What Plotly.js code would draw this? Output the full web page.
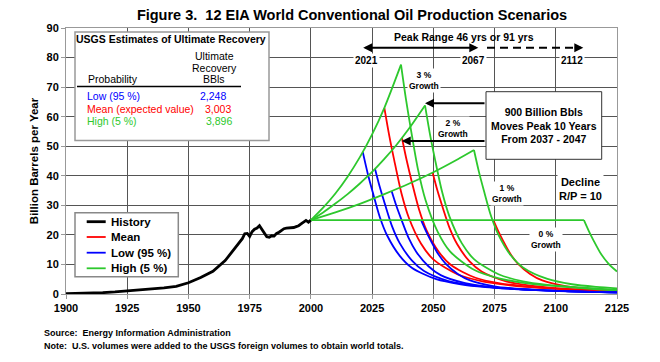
<!DOCTYPE html>
<html><head><meta charset="utf-8">
<script src="https://cdn.plot.ly/plotly-3.0.1.min.js"></script>
<style>html,body{margin:0;padding:0;background:#fff}#chart{width:660px;height:362px}</style>
</head><body><div id="chart"></div>
<script>
// ---- History ----
const histYears = [1900,1905,1910,1915,1920,1925,1930,1935,1940,1945,1950,1955,1960,1965,1970,1972,1973,1974,1975,1976,1977,1978,1979,1980,1981,1982,1983,1984,1985,1986,1987,1988,1989,1990,1991,1992,1993,1994,1995,1996,1997,1998,1999,2000];
const histVals  = [0.15,0.22,0.33,0.45,0.7,1.0,1.4,1.6,2.1,2.6,3.8,5.6,7.7,11.3,16.6,18.7,20.4,20.5,19.5,21.1,21.9,22.3,23.1,21.9,20.5,19.4,19.2,19.7,19.6,20.5,20.9,21.6,22.1,22.3,22.3,22.4,22.5,22.8,23.1,23.7,24.4,24.9,24.3,25.0];

// ---- Growth paths (shared by the three URR cases, visible as green) ----
const grow3Years = [2000,2005,2010,2015,2020,2025,2030,2036.8];
const grow3Vals  = [25,29.2,34.0,39.7,46.3,54.0,63.0,77.6];
const grow2Years = [2000,2005,2010,2015,2020,2025,2030,2035,2040,2046.6];
const grow2Vals  = [25,27.6,30.6,33.8,37.4,41.3,45.7,50.5,55.9,63.8];
const grow1Years = [2000,2010,2020,2030,2040,2050,2060,2066.6];
const grow1Vals  = [25,27.6,30.5,33.8,37.3,41.2,45.6,48.7];
const grow0Years = [2000,2111.5];
const grow0Vals  = [25,25];

// ---- Low (95 %) declines ----
const low3Years = [2021.2,2023.2,2025.2,2028.2,2031.2,2036.2,2041.2,2051.2,2061.2,2071.2,2081.2,2101.2,2121.2,2125];
const low3Vals  = [48.0,40.8,34.6,25.9,19.7,13.0,8.9,5.0,3.3,2.35,1.8,1.0,0.58,0.5];
const low2Years = [2026.2,2028.2,2030.2,2033.2,2036.2,2041.2,2046.2,2056.2,2066.2,2076.2,2086.2,2106.2,2125];
const low2Vals  = [42.3,36.0,30.5,22.8,17.3,11.4,7.8,4.4,2.9,2.1,1.6,0.89,0.53];
const low1Years = [2033,2035,2037,2040,2043,2048,2053,2063,2073,2083,2093,2113,2125];
const low1Vals  = [34.8,29.6,25.1,18.8,14.3,9.4,6.4,3.65,2.4,1.7,1.3,0.73,0.52];
const low0Years = [2045,2047,2049,2052,2055,2060,2065,2075,2085,2095,2105,2125];
const low0Vals  = [25,21.3,18.0,13.5,10.3,6.8,4.6,2.6,1.7,1.2,0.93,0.53];

// ---- Mean declines ----
const mean3Years = [2030,2032,2034,2037,2040,2045,2050,2060,2070,2080,2090,2110,2125];
const mean3Vals  = [63.0,53.6,45.4,34.0,25.8,17.0,11.7,6.6,4.3,3.1,2.3,1.3,0.88];
const mean2Years = [2037.2,2039.2,2041.2,2044.2,2047.2,2052.2,2057.2,2067.2,2077.2,2087.2,2097.2,2117.2,2125];
const mean2Vals  = [52.8,44.9,38.0,28.5,21.6,14.3,9.8,5.5,3.6,2.6,1.95,1.1,0.9];
const mean1Years = [2049.7,2051.7,2053.7,2056.7,2059.7,2064.7,2069.7,2079.7,2089.7,2099.7,2109.7,2125];
const mean1Vals  = [41.1,34.9,29.6,22.2,16.9,11.1,7.6,4.3,2.8,2.0,1.5,0.99];
const mean0Years = [2074.5,2076.5,2078.5,2081.5,2084.5,2089.5,2094.5,2104.5,2114.5,2125];
const mean0Vals  = [25,21.3,18.0,13.5,10.3,6.8,4.6,2.6,1.7,1.2];

// ---- High (5 %) declines ----
const high3Years = [2036.8,2038.8,2040.8,2043.8,2046.8,2051.8,2056.8,2066.8,2076.8,2086.8,2096.8,2116.8,2125];
const high3Vals  = [77.6,66.0,55.9,41.9,31.8,21.0,14.4,8.1,5.3,3.8,2.9,1.6,1.3];
const high2Years = [2046.6,2048.6,2050.6,2053.6,2056.6,2061.6,2066.6,2076.6,2086.6,2096.6,2106.6,2125];
const high2Vals  = [63.8,54.2,45.9,34.5,26.2,17.2,11.8,6.7,4.3,3.1,2.4,1.4];
const high1Years = [2066.6,2068.6,2070.6,2073.6,2076.6,2081.6,2086.6,2096.6,2106.6,2116.6,2125];
const high1Vals  = [48.7,41.4,35.1,26.3,20.0,13.1,9.0,5.1,3.3,2.4,1.9];
const high0Years = [2111.5,2113.5,2115.5,2118.5,2121.5,2125];
const high0Vals  = [25,21.3,18.0,13.5,10.3,7.6];

// ---- Table / legend text ----
const tableLabels = ['Low (95 %)','Mean (expected value)','High (5 %)'];
const tableValues = ['2,248','3,003','3,896'];
const legendNames = ['History','Mean','Low (95 %)','High (5 %)'];

const FONT = 'Liberation Sans, Arial, sans-serif';
const RED = '#FF0000', BLUE = '#0000FF', GREEN = '#2DC82D';

function joinSegs(segs){
  const x=[], y=[];
  segs.forEach((s,i)=>{ if(i){x.push(null);y.push(null);} x.push(...s[0]); y.push(...s[1]); });
  return {x,y};
}
const meanD = joinSegs([[mean0Years,mean0Vals],[mean1Years,mean1Vals],[mean2Years,mean2Vals],[mean3Years,mean3Vals]]);
const lowD  = joinSegs([[low0Years,low0Vals],[low1Years,low1Vals],[low2Years,low2Vals],[low3Years,low3Vals]]);
const highD = joinSegs([[grow0Years,grow0Vals],[grow1Years,grow1Vals],[grow2Years,grow2Vals],[grow3Years,grow3Vals],
                        [high0Years,high0Vals],[high1Years,high1Vals],[high2Years,high2Vals],[high3Years,high3Vals]]);

const lw = 1.8;
const colors = ['#000',RED,BLUE,GREEN];
const widths = [2.8,lw,lw,lw];
const traces = [
  {x:histYears,y:histVals,name:legendNames[0],mode:'lines',line:{color:colors[0],width:widths[0]}},
  {x:meanD.x,y:meanD.y,name:legendNames[1],mode:'lines',connectgaps:false,line:{color:RED,width:lw,shape:'spline',smoothing:0.8}},
  {x:lowD.x,y:lowD.y,name:legendNames[2],mode:'lines',connectgaps:false,line:{color:BLUE,width:lw,shape:'spline',smoothing:0.8}},
  {x:highD.x,y:highD.y,name:legendNames[3],mode:'lines',connectgaps:false,line:{color:GREEN,width:lw,shape:'spline',smoothing:0.8}}
];

// pixel -> paper helpers (plot area 66..617 x 28..294)
const L=66,T=28,W=551,H=266;
const PX = px => (px-L)/W;
const PY = py => (T+H-py)/H;

function txt(text, px, py, size, opts){
  return Object.assign({xref:'paper',yref:'paper',x:PX(px),y:PY(py),text:text,showarrow:false,
    xanchor:'center',yanchor:'middle',font:{family:FONT,size:size,color:'#000',weight:'bold'}}, opts||{});
}
const ann = [];
// table
ann.push(txt('USGS Estimates of Ultimate Recovery',170.5,39,10.5));
ann.push(txt('Ultimate',214,56,10.5,{font:{family:FONT,size:10.5,color:'#000'}}));
ann.push(txt('Recovery',214,67.7,10.5,{font:{family:FONT,size:10.5,color:'#000'}}));
ann.push(txt('BBls',214,79,10.5,{font:{family:FONT,size:10.5,color:'#000'}}));
ann.push(txt('Probability',86,79,10.5,{xanchor:'left',font:{family:FONT,size:10.5,color:'#000'}}));
const rowY=[96,108.5,121], rowC=[BLUE,RED,GREEN], valX=[198,203,204];
tableLabels.forEach((t,i)=>{
  ann.push(txt(t,85,rowY[i],10.5,{xanchor:'left',font:{family:FONT,size:10.5,color:rowC[i]}}));
  ann.push(txt(tableValues[i],valX[i],rowY[i],10.5,{xanchor:'left',font:{family:FONT,size:10.5,color:rowC[i]}}));
});
// legend text
const legY=[221.7,237,252.7,268.3];
legendNames.forEach((n,i)=>ann.push(txt(n,108.5,legY[i],11.5,{xanchor:'left'})));
// peak range
ann.push(txt('Peak Range 46 yrs or 91 yrs',464,36.7,10.5));
ann.push({xref:'paper',yref:'paper',x:PX(478.3),y:PY(47.7),ax:-116.6,ay:0,text:'',showarrow:true,
  arrowhead:2,startarrowhead:2,arrowside:'end+start',arrowwidth:2,arrowsize:0.9,startarrowsize:0.9,arrowcolor:'#000'});
ann.push({xref:'paper',yref:'paper',x:PX(583.3),y:PY(47.7),ax:-10,ay:0,text:'',showarrow:true,
  arrowhead:2,arrowwidth:2,arrowsize:0.9,arrowcolor:'#000'});
ann.push(txt('2021',366.5,60,10,{bgcolor:'#fff'}));
ann.push(txt('2067',473,60,10,{bgcolor:'#fff'}));
ann.push(txt('2112',571.7,60,10,{bgcolor:'#fff'}));
// growth labels
ann.push(txt('3 %<br>Growth',424,80.5,8.5,{bgcolor:'#fff'}));
ann.push(txt('2 %<br>Growth',452.7,128,8.5,{bgcolor:'#fff'}));
ann.push(txt('1 %<br>Growth',506.7,193,8.5,{bgcolor:'#fff'}));
ann.push(txt('0 %<br>Growth',546,239.5,8.5,{bgcolor:'#fff'}));
ann.push(txt('Decline<br>R/P = 10',580,189,11,{bgcolor:'#fff'}));
// 900 box
ann.push(txt('900 Billion Bbls<br>Moves Peak 10 Years<br>From 2037 - 2047',543.8,125.5,10.5));
ann.push({xref:'paper',yref:'paper',x:PX(425),y:PY(103.3),ax:61,ay:0,text:'',showarrow:true,
  arrowhead:2,arrowwidth:2,arrowsize:0.9,arrowcolor:'#000'});
ann.push({xref:'paper',yref:'paper',x:PX(401.7),y:PY(141),ax:84.3,ay:0,text:'',showarrow:true,
  arrowhead:2,arrowwidth:2,arrowsize:0.9,arrowcolor:'#000'});
// footnotes
ann.push(txt('Source:\u00a0 Energy Information Administration',42,333,9,{xanchor:'left'}));
ann.push(txt('Note:\u00a0 U.S. volumes were added to the USGS foreign volumes to obtain world totals.',42,346,9,{xanchor:'left'}));

const shapes = [
  {type:'rect',xref:'paper',yref:'paper',x0:PX(75),x1:PX(269),y0:PY(140.5),y1:PY(32),line:{color:'#999',width:1.5},fillcolor:'#fff',layer:'above'},
  {type:'line',xref:'paper',yref:'paper',x0:PX(77),x1:PX(241),y0:PY(86.5),y1:PY(86.5),line:{color:'#000',width:1.5}},
  {type:'rect',xref:'paper',yref:'paper',x0:PX(486),x1:PX(601.7),y0:PY(159.3),y1:PY(91.7),line:{color:'#333',width:1},fillcolor:'#fff',layer:'above'},
  {type:'line',xref:'paper',yref:'paper',x0:PX(487),x1:PX(576),y0:PY(47.7),y1:PY(47.7),line:{color:'#000',width:2,dash:'8px,5px'}},
  {type:'rect',xref:'paper',yref:'paper',x0:PX(75),x1:PX(178.3),y0:PY(276.7),y1:PY(212.7),line:{color:'#888',width:1.5},fillcolor:'#fff',layer:'above'}
];
legY.forEach((py,i)=>shapes.push({type:'line',xref:'paper',yref:'paper',x0:PX(86.7),x1:PX(105.7),y0:PY(py),y1:PY(py),
  line:{color:colors[i],width:widths[i]}}));

const layout = {
  width:660,height:362,
  margin:{l:L,r:660-L-W,t:T,b:362-T-H,pad:0},
  paper_bgcolor:'#fff',plot_bgcolor:'#fff',
  font:{family:FONT,color:'#000'},
  title:{text:'Figure 3.\u00a0 12 EIA World Conventional Oil Production Scenarios',
    font:{family:FONT,size:14.5,weight:'bold',color:'#000'},x:352/660,xanchor:'center',y:1-15/362,yanchor:'middle',yref:'container'},
  xaxis:{range:[1900,2125],tick0:1900,dtick:25,showgrid:true,gridcolor:'#555',gridwidth:1,zeroline:false,
    showline:true,mirror:true,linecolor:'#999',linewidth:1,ticks:'outside',ticklen:4,tickcolor:'#999',
    tickfont:{family:FONT,size:11,weight:'bold',color:'#000'}},
  yaxis:{range:[0,90],dtick:10,showgrid:true,gridcolor:'#555',gridwidth:1,zeroline:false,
    showline:true,mirror:true,linecolor:'#999',linewidth:1,ticks:'outside',ticklen:4,tickcolor:'#999',
    tickfont:{family:FONT,size:11,weight:'bold',color:'#000'},
    title:{text:'Billion Barrels per Year',font:{family:FONT,size:11.5,weight:'bold',color:'#000'},standoff:5}},
  showlegend:false,
  annotations:ann,
  shapes:shapes
};
Plotly.newPlot('chart',traces,layout,{staticPlot:true,displayModeBar:false});
</script></body></html>
